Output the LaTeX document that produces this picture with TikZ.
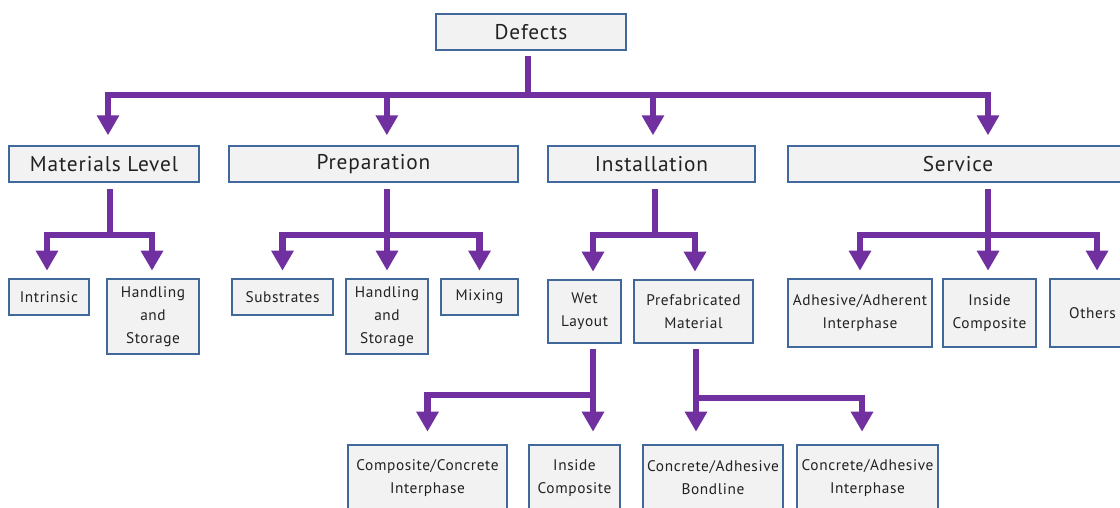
\documentclass[tikz,border=0pt]{standalone}
\usepackage{fontspec}
\setmainfont{PT Sans}[LetterSpace=4]
\usetikzlibrary{arrows.meta}
\definecolor{pur}{HTML}{7030A0}
\definecolor{bord}{HTML}{41689A}
\definecolor{fillc}{HTML}{F2F2F2}
\definecolor{txt}{HTML}{222222}
\begin{document}
\begin{tikzpicture}[x=0.75pt,y=-0.75pt,
  box/.style={draw=bord,fill=fillc,line width=2pt,inner sep=0pt,align=center,text=txt},
  big/.style={box,font=\fontsize{16}{19}\selectfont,minimum height=27pt},
  small/.style={box,font=\fontsize{11.5}{17.25}\selectfont},
  arr/.style={draw=pur,line width=4.8pt,-{Triangle[width=16pt,length=15pt]}},
]
\useasboundingbox (0,0) rectangle (1120,507);
\begin{scope}
\clip (0,0) rectangle (1120,507);
% level 0
\node[big,minimum width=142.5pt] (defects) at (531,32) {Defects};
% level 1
\node[big,minimum width=142.5pt] (mat) at (104,164) {Materials Level};
\node[big,minimum width=216.75pt] (prep) at (373.5,164) {Preparation};
\node[big,minimum width=155.25pt] (inst) at (651.5,164) {Installation};
\node[big,minimum width=255pt] (serv) at (958,164) {Service};
% level 2
\node[small,minimum width=60pt,minimum height=27pt] (intr) at (49,297) {Intrinsic};
\node[small,minimum width=69pt,minimum height=56.25pt] (hs1) at (153,316.5) {Handling\\and\\Storage};
\node[small,minimum width=75.75pt,minimum height=27pt] (subs) at (282.5,297) {Substrates};
\node[small,minimum width=61.5pt,minimum height=56.25pt] (hs2) at (387,316.5) {Handling\\and\\Storage};
\node[small,minimum width=57.75pt,minimum height=27pt] (mix) at (479.5,297) {Mixing};
\node[small,minimum width=54.75pt,minimum height=47.25pt] (wet) at (584.5,311.5) {Wet\\Layout};
\node[small,minimum width=89.25pt,minimum height=47.25pt] (pref) at (693.5,311.5) {Prefabricated\\Material};
\node[small,minimum width=108pt,minimum height=51pt] (adh) at (860,313) {Adhesive/Adherent\\Interphase};
\node[small,minimum width=69.75pt,minimum height=51pt] (ins1) at (989.5,313) {Inside\\Composite};
\node[small,minimum width=63.75pt,minimum height=51pt] (oth) at (1092.5,313) {Others};
% level 3
\node[small,minimum width=119.25pt,minimum height=49.5pt] (cc) at (427.5,478) {Composite/Concrete\\Interphase};
\node[small,minimum width=68.25pt,minimum height=49.5pt] (ins2) at (574.5,478) {Inside\\Composite};
\node[small,minimum width=105pt,minimum height=49.5pt] (bond) at (713,478) {Concrete/Adhesive\\Bondline};
\node[small,minimum width=105.75pt,minimum height=49.5pt] (cai) at (867.5,478) {Concrete/Adhesive\\Interphase};

% bus levels
\coordinate (y1) at (0,95);
\coordinate (y2) at (0,235);
\coordinate (y3w) at (0,395);
\coordinate (y3p) at (0,398);

% level 1 connectors
\coordinate (d0) at ([xshift=-2.25pt]defects.south);
\coordinate (tm) at ([xshift=3pt]mat.north);
\coordinate (tp) at ([xshift=10pt]prep.north);
\coordinate (ti) at ([xshift=1.1pt]inst.north);
\coordinate (ts) at ([xshift=22.5pt]serv.north);
\foreach \t in {tm,tp,ti,ts}
  \draw[arr,shorten <=3.75pt,shorten >=7pt] (d0) |- (\t |- y1) -- (\t);

% level 2 connectors
\coordinate (sm) at ([xshift=4.5pt]mat.south);
\coordinate (sp) at ([xshift=10pt]prep.south);
\coordinate (si) at ([xshift=2.6pt]inst.south);
\coordinate (ss) at ([xshift=22.5pt]serv.south);
\coordinate (c1) at ([xshift=-1.5pt]intr.north);
\coordinate (c2) at ([xshift=-0.75pt]hs1.north);
\coordinate (c3) at (subs.north);
\coordinate (c4) at (hs2.north);
\coordinate (c5) at (mix.north);
\coordinate (c6) at ([xshift=6.4pt]wet.north);
\coordinate (c7) at ([xshift=1.1pt]pref.north);
\coordinate (c8) at (adh.north);
\coordinate (c9) at ([xshift=-1.1pt]ins1.north);
\coordinate (c10) at ([xshift=3.4pt]oth.north);
\foreach \s/\t in {sm/c1,sm/c2,sp/c3,sp/c4,sp/c5,si/c6,si/c7,ss/c8,ss/c9,ss/c10}
  \draw[arr,shorten <=4.5pt,shorten >=5.25pt] (\s) |- (\t |- y2) -- (\t);

% level 3 connectors
\coordinate (sw) at ([xshift=6.4pt]wet.south);
\coordinate (spf) at ([xshift=1.9pt]pref.south);
\coordinate (e1) at (cc.north);
\coordinate (e2) at ([xshift=13.9pt]ins2.north);
\coordinate (e3) at ([xshift=-12.75pt]bond.north);
\coordinate (e4) at ([xshift=-4.1pt]cai.north);
\foreach \t in {e1,e2}
  \draw[arr,shorten <=3.75pt,shorten >=9pt] (sw) |- (\t |- y3w) -- (\t);
\foreach \t in {e3,e4}
  \draw[arr,shorten <=3.75pt,shorten >=9pt] (spf) |- (\t |- y3p) -- (\t);
\end{scope}
\end{tikzpicture}
\end{document}
